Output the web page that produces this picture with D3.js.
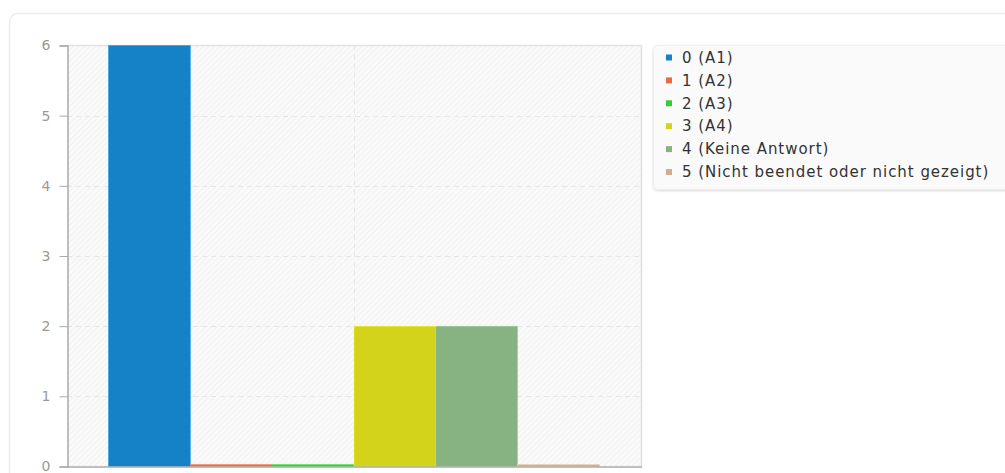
<!DOCTYPE html>
<html><head><meta charset="utf-8">
<script src="https://cdn.jsdelivr.net/npm/d3@7"></script>
<style>
html,body{margin:0;padding:0;background:#fff;}
svg{display:block;font-family:"DejaVu Sans",sans-serif;}
</style></head>
<body>
<svg id="chart" width="1005" height="473"></svg>
<script>
const categories = ["Frage"];
const seriesNames = ["0 (A1)", "1 (A2)", "2 (A3)", "3 (A4)", "4 (Keine Antwort)", "5 (Nicht beendet oder nicht gezeigt)"];
const seriesValues = [6, 0, 0, 2, 2, 0];
const seriesColors = ["#1581c7", "#ec6a44", "#35cc35", "#d3d31c", "#87b383", "#d2ae8c"];
const yTicks = [0, 1, 2, 3, 4, 5, 6];

const svg = d3.select("#chart");
const defs = svg.append("defs");

// card
svg.append("rect").attr("x", 9.5).attr("y", 13.5).attr("width", 1040).attr("height", 500)
  .attr("rx", 8).attr("fill", "#fff").attr("stroke", "#ececec").attr("stroke-width", 1.5);

const plot = {left: 67, right: 641, top: 45.5, bottom: 466.5};

const pat = defs.append("pattern").attr("id", "hatch").attr("patternUnits", "userSpaceOnUse")
  .attr("width", 4).attr("height", 4).attr("patternTransform", "rotate(45)");
pat.append("rect").attr("width", 4).attr("height", 4).attr("fill", "#fafafa");
pat.append("line").attr("x1", 0).attr("y1", 0).attr("x2", 0).attr("y2", 4)
  .attr("stroke", "#efefef").attr("stroke-width", 1.5);

svg.append("rect").attr("x", plot.left).attr("y", plot.top)
  .attr("width", plot.right - plot.left).attr("height", plot.bottom - plot.top)
  .attr("fill", "url(#hatch)");

const y = d3.scaleLinear().domain([0, 6]).range([plot.bottom, plot.top]);
const x0 = d3.scaleBand().domain(categories).range([plot.left, plot.right]).paddingOuter(0.0845).paddingInner(0);
const x1 = d3.scaleBand().domain(seriesNames).range([0, x0.bandwidth()]).padding(0);

// grid
svg.append("g").selectAll("line").data(yTicks.filter(d => d > 0 && d < 6)).join("line")
  .attr("x1", plot.left).attr("x2", plot.right)
  .attr("y1", d => Math.round(y(d)) + 0.5).attr("y2", d => Math.round(y(d)) + 0.5)
  .attr("stroke", "#e6e6e6").attr("stroke-dasharray", "5,4");
svg.append("line").attr("x1", Math.round(x0("Frage") + x0.bandwidth()/2) + 0.5)
  .attr("x2", Math.round(x0("Frage") + x0.bandwidth()/2) + 0.5)
  .attr("y1", plot.top).attr("y2", plot.bottom)
  .attr("stroke", "#e6e6e6").attr("stroke-dasharray", "5,4");

// plot border top/right
svg.append("line").attr("x1", plot.left).attr("x2", plot.right).attr("y1", plot.top).attr("y2", plot.top)
  .attr("stroke", "#e2e2e2").attr("stroke-width", 1.5);
svg.append("line").attr("x1", plot.right + 0.5).attr("x2", plot.right + 0.5).attr("y1", plot.top).attr("y2", plot.bottom)
  .attr("stroke", "#dedede").attr("stroke-width", 1.5);

// bars
const gx = x0("Frage");
svg.append("g").selectAll("rect").data(seriesNames).join("rect")
  .attr("x", (d) => gx + x1(d))
  .attr("width", x1.bandwidth())
  .attr("y", (d, i) => Math.min(y(seriesValues[i]), plot.bottom - 2))
  .attr("height", (d, i) => Math.max(plot.bottom - y(seriesValues[i]), 2))
  .attr("fill", (d, i) => seriesColors[i])
  .attr("stroke", (d, i) => d3.color(seriesColors[i]).brighter(0.5))
  .attr("stroke-width", 0.5);

// y axis
const yAxis = d3.axisLeft(y).tickValues(yTicks).tickFormat(d3.format("d")).tickSize(8).tickPadding(9);
const ya = svg.append("g").attr("transform", `translate(${plot.left + 0.5},0)`).call(yAxis);
ya.select(".domain").attr("stroke", "#aaa").attr("stroke-width", 1.5);
ya.selectAll(".tick line").attr("stroke", "#aaa");
ya.selectAll(".tick text").attr("fill", "#999").style("font-size", "14px").style("font-family", "DejaVu Sans");

// x axis baseline
svg.append("line").attr("x1", plot.left).attr("x2", plot.right + 1).attr("y1", plot.bottom + 0.5).attr("y2", plot.bottom + 0.5)
  .attr("stroke", "#aaa").attr("stroke-width", 1.5);

// legend
const lg = svg.append("g");
defs.append("filter").attr("id", "sh").attr("x", "-5%").attr("y", "-5%").attr("width", "110%").attr("height", "120%")
  .append("feDropShadow").attr("dx", 0).attr("dy", 1).attr("stdDeviation", 1).attr("flood-color", "#000").attr("flood-opacity", 0.15);
lg.append("rect").attr("x", 653.5).attr("y", 45.5).attr("width", 400).attr("height", 144)
  .attr("rx", 4).attr("fill", "#fafafa").attr("stroke", "#eee").attr("filter", "url(#sh)");
const ly = d3.scalePoint().domain(seriesNames).range([57.5, 172]);
const items = lg.selectAll("g.it").data(seriesNames).join("g").attr("class", "it")
  .attr("transform", d => `translate(0,${ly(d)})`);
items.append("rect").attr("x", 666).attr("y", -3).attr("width", 6).attr("height", 6)
  .attr("fill", (d, i) => seriesColors[i]);
items.append("text").attr("x", 682).attr("y", 0).attr("dy", "0.35em")
  .attr("fill", "#333").style("font-size", "15px").style("letter-spacing", "0.95px").text(d => d);
</script>
</body></html>
